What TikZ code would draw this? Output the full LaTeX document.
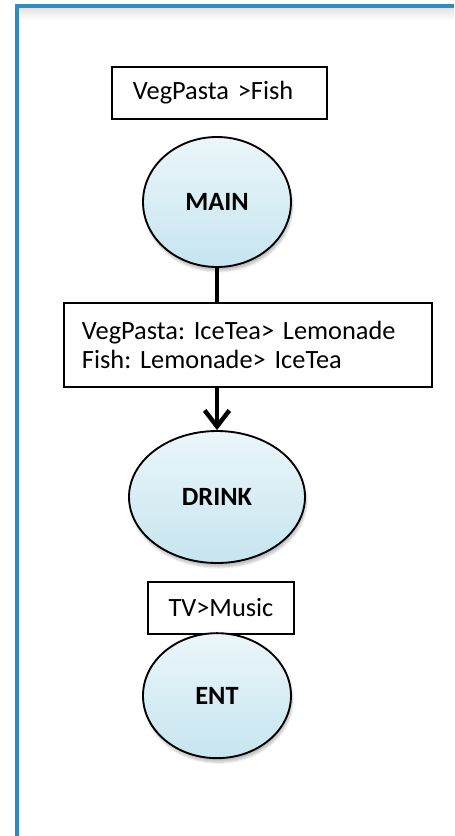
\documentclass[tikz,border=0pt]{standalone}
\usepackage{fontspec}
\setmainfont{Carlito}
\frenchspacing
\definecolor{frameblue}{HTML}{2E8CBF}
\definecolor{bubbletop}{HTML}{EBF6FA}
\definecolor{bubblebot}{HTML}{C6E5EF}
\usetikzlibrary{arrows.meta, shapes.geometric, shadows.blur, backgrounds}

\begin{document}
\begin{tikzpicture}[
  font=\fontsize{22.5}{25.5}\selectfont,
  pref/.style={draw, line width=1.6pt, fill=white, minimum height=1.56cm, inner ysep=0pt},
  bubble/.style={ellipse, draw, line width=1.6pt, top color=bubbletop, bottom color=bubblebot,
    font=\fontsize{22.5}{25.5}\selectfont\bfseries, inner sep=0pt,
    blur shadow={shadow xshift=0.04cm, shadow yshift=-0.12cm, shadow opacity=25, shadow blur steps=6}},
  arr/.style={-{Straight Barb[length=0.48cm, width=0.74cm, line width=3.8pt]}, line width=4pt},
]
\useasboundingbox (-6.51,0) rectangle (7.11,-25.08);

% Page frame
\shade[top color=black!12, bottom color=white] (-6,-0.2) rectangle (7.11,-0.6);
\draw[frameblue, line width=2.6pt] (7.11,-0.18) -- (-6,-0.18) -- (-6,-25.08);

% Preferences and variables
\node[pref, text width=5.19cm, inner xsep=0.63cm, align=left] (mainpref) at (0.075,-2.79) {VegPasta >Fish};
\node[bubble, minimum width=4.44cm, minimum height=3.9cm] (main) at (0,-6.06) {MAIN};

\node[pref, text width=9.96cm, inner xsep=0.54cm, align=left, minimum height=2.52cm] (drinkpref) at (0.93,-10.35)
  {VegPasta: IceTea> Lemonade\\Fish: Lemonade> IceTea};
\node[bubble, minimum width=5.28cm, minimum height=3.96cm] (drink) at (0,-14.91) {DRINK};

\node[pref, minimum width=4.38cm] (entpref) at (0.12,-18.24) {TV>Music};
\node[bubble, minimum width=4.44cm, minimum height=3.75cm] (ent) at (0,-20.87) {ENT};

% Arrow (behind the conditional table)
\begin{scope}[on background layer]
\draw[arr] (main) -- (drink);
\end{scope}

\end{tikzpicture}
\end{document}
